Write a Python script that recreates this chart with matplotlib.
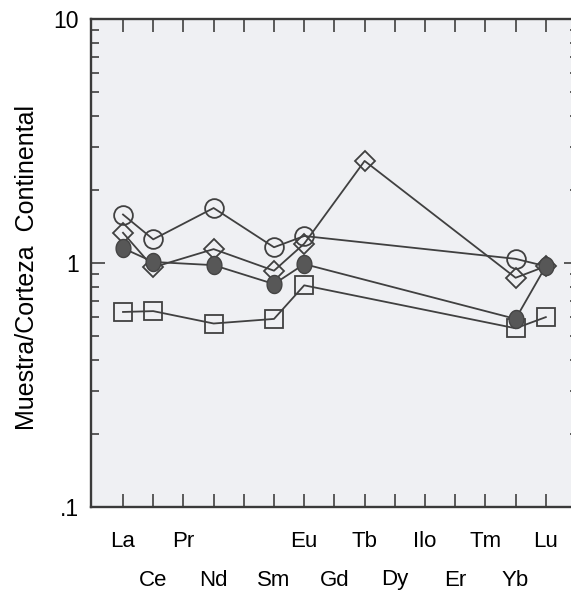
import numpy as np
import matplotlib
matplotlib.use("Agg")
import matplotlib.pyplot as plt
from matplotlib.path import Path
from matplotlib.ticker import FixedLocator, NullFormatter, LogLocator

plt.rcParams['font.family'] = ['Liberation Sans', 'DejaVu Sans']

# REE order (Pm position left unlabeled)
elements = ["La", "Ce", "Pr", "Nd", "", "Sm", "Eu", "Gd", "Tb", "Dy", "Ilo", "Er", "Tm", "Yb", "Lu"]
nan = np.nan
#                 La    Ce    Pr   Nd    Pm   Sm    Eu    Gd   Tb    Dy   Ho   Er   Tm   Yb    Lu
open_circle  = [1.58, 1.25, nan, 1.68, nan, 1.16, 1.29, nan, nan,  nan, nan, nan, nan, 1.04, 0.97]
open_diamond = [1.33, 0.96, nan, 1.14, nan, 0.93, 1.20, nan, 2.62, nan, nan, nan, nan, 0.87, 0.97]
filled_circ  = [1.15, 1.01, nan, 0.98, nan, 0.82, 0.99, nan, nan,  nan, nan, nan, nan, 0.59, 0.97]
open_square  = [0.63, 0.635, nan, 0.565, nan, 0.59, 0.81, nan, nan, nan, nan, nan, nan, 0.54, 0.60]

ytick_vals = [0.1, 1, 10]
ytick_labels = [".1", "1", "10"]

W, H = 571, 591
fig = plt.figure(figsize=(W / 100, H / 100), dpi=100)
fig.patch.set_facecolor("white")
R = 578
ax = fig.add_axes([91 / W, (H - 507) / H, (R - 91) / W, (507 - 19) / H])
ax.set_facecolor("#eff0f3")

lc = "#404040"
x_all = np.arange(len(elements))

def series(vals):
    v = np.array(vals, dtype=float)
    m = ~np.isnan(v)
    return x_all[m], v[m]

# ellipse-shaped filled marker
t = np.linspace(0, 2 * np.pi, 40)
ell = Path(np.column_stack([0.82 * np.cos(t), np.sin(t)]), closed=True)

x, y = series(open_square)
ax.plot(x, y, color=lc, lw=1.3, marker="s", ms=12.5, mfc="none", mec=lc, mew=1.3, zorder=3)
x, y = series(open_diamond)
ax.plot(x, y, color=lc, lw=1.3, marker="D", ms=10.5, mfc="none", mec=lc, mew=1.3, zorder=3)
x, y = series(open_circle)
ax.plot(x, y, color=lc, lw=1.3, zorder=3)
ax.plot(x[:-1], y[:-1], ls="none", marker="o", ms=13.5, mfc="none", mec=lc, mew=1.3, zorder=3)
x, y = series(filled_circ)
ax.plot(x, y, color=lc, lw=1.3, marker=ell, ms=13, mfc="#575757", mec="#444444", mew=1.0, zorder=4)

ax.set_yscale("log")
ax.set_ylim(0.1, 10)
xl = -1.06
xr = xl + (R - 91) / 30.2
ax.set_xlim(xl, xr)

ax.yaxis.set_major_locator(FixedLocator(ytick_vals))
ax.set_yticklabels(ytick_labels)
ax.yaxis.set_minor_locator(LogLocator(base=10, subs=np.arange(2, 10)))
ax.yaxis.set_minor_formatter(NullFormatter())

even = x_all[::2]
odd = x_all[1::2]
ax.xaxis.set_major_locator(FixedLocator(even))
ax.set_xticklabels([elements[i] for i in even])
ax.xaxis.set_minor_locator(FixedLocator(odd))
ax.set_xticks(odd, [elements[i] for i in odd], minor=True)

ax.tick_params(axis="x", which="both", direction="in", top=True, bottom=True,
               length=9.5, width=1.2, color=lc, labelsize=16)
ax.tick_params(axis="x", which="major", pad=17)
ax.tick_params(axis="x", which="minor", pad=45)
ax.tick_params(axis="y", which="major", direction="in", left=True, right=True,
               length=10, width=1.2, color=lc, labelsize=16.5, pad=9)
ax.tick_params(axis="y", which="minor", direction="in", left=True, right=True,
               length=6, width=1.2, color=lc)

for s in ax.spines.values():
    s.set_linewidth(1.7)
    s.set_color("#3a3a3a")

ax.set_ylabel("Muestra/Corteza  Continental", fontsize=18, va="center")
ax.yaxis.set_label_coords((27 - 91) / (R - 91), (507 - 267) / (507 - 19))

fig.savefig("out.png", dpi=100)
